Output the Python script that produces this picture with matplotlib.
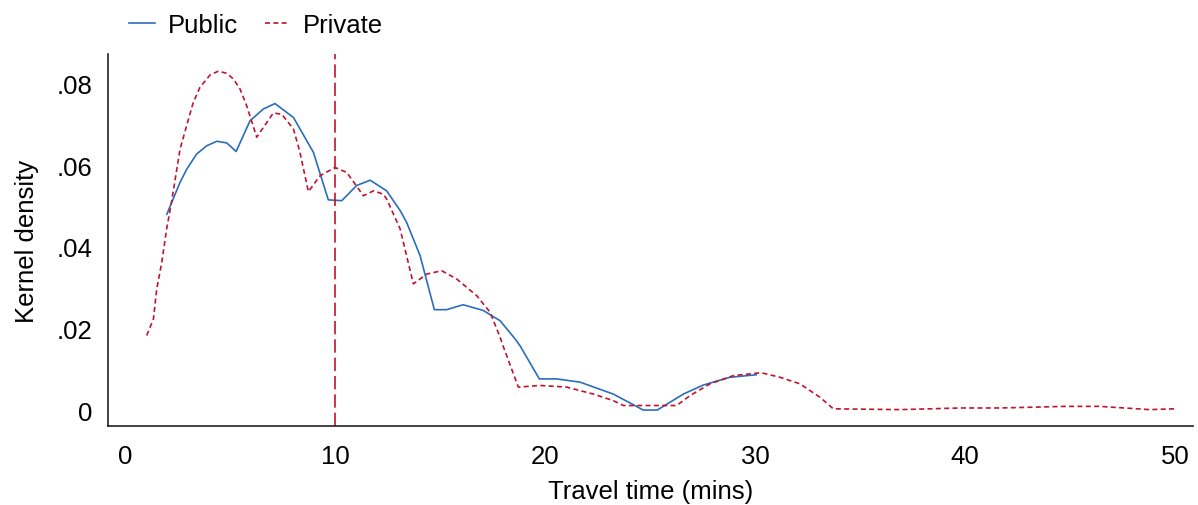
import matplotlib
matplotlib.use("Agg")
import matplotlib.pyplot as plt

plt.rcParams['font.family'] = ['Liberation Sans', 'DejaVu Sans']

# Public schools: travel time (mins) vs kernel density
public_x = [1.99, 2.62, 2.94, 3.41, 3.89, 4.37, 4.84, 5.29, 5.95, 6.59, 7.14, 8.02,
            8.97, 9.68, 10.32, 11.03, 11.67, 12.46, 13.1, 13.41, 14.05, 14.73, 15.32,
            16.1, 17.06, 17.86, 18.57, 18.81, 19.73, 20.56, 21.67, 23.25, 24.68, 25.35,
            26.59, 27.54, 28.81, 30.05]
public_y = [0.048, 0.0558, 0.059, 0.0627, 0.0647, 0.0658, 0.0654, 0.0633, 0.0708,
            0.0737, 0.0750, 0.0716, 0.0631, 0.0515, 0.0513, 0.0550, 0.0563, 0.0537,
            0.0489, 0.0460, 0.0379, 0.0247, 0.0247, 0.0259, 0.0245, 0.0220, 0.0176,
            0.0159, 0.0078, 0.0078, 0.0070, 0.0041, 0.0002, 0.0002, 0.0041, 0.0063,
            0.0082, 0.0088]

# Private schools
private_x = [1.03, 1.35, 1.51, 1.75, 1.98, 2.22, 2.62, 3.02, 3.25, 3.57, 4.05, 4.44,
             4.84, 5.16, 5.48, 5.79, 6.27, 7.06, 7.46, 8.02, 8.33, 8.73, 9.29, 10.0,
             10.56, 11.35, 11.83, 12.3, 12.46, 13.1, 13.73, 14.37, 15.08, 15.79, 16.75,
             17.38, 17.86, 18.0, 18.73, 19.76, 21.03, 22.3, 23.25, 23.73, 26.27, 26.9,
             27.86, 28.97, 30.3, 31.19, 32.14, 33.1, 33.73, 36.9, 39.76, 41.67, 44.84,
             46.4, 48.8, 50.0]
private_y = [0.0184, 0.0224, 0.0298, 0.0363, 0.0444, 0.0512, 0.0639, 0.0712, 0.0753,
             0.079, 0.082, 0.0829, 0.0824, 0.081, 0.0785, 0.0745, 0.0668, 0.0727,
             0.0724, 0.0688, 0.0631, 0.0535, 0.0574, 0.0594, 0.0582, 0.0525, 0.0537,
             0.0529, 0.0517, 0.0444, 0.031, 0.0334, 0.0342, 0.0322, 0.0281, 0.0241,
             0.018, 0.0159, 0.0058, 0.0062, 0.0058, 0.0041, 0.0025, 0.0013, 0.0013,
             0.0037, 0.0066, 0.0086, 0.0093, 0.0082, 0.0066, 0.0033, 0.0005, 0.0003,
             0.0007, 0.0007, 0.0011, 0.0011, 0.0003, 0.0005]

median_line = 10
xticks = [0, 10, 20, 30, 40, 50]
yticks = [0, 0.02, 0.04, 0.06, 0.08]
ytick_labels = ['0', '.02', '.04', '.06', '.08']

blue = '#2a6ebb'
red = '#c0142e'
fs = 18.5

fig = plt.figure(figsize=(11.98, 5.06), dpi=100)
ax = fig.add_axes([0.0902, 0.1561, 0.9056, 0.7352])

ax.plot(public_x, public_y, color=blue, lw=1.2, label='Public')
ax.plot(private_x, private_y, color=red, lw=1.2, ls=(0, (3, 2)), label='Private')
ax.axvline(median_line, color=red, lw=1.2, ls=(0, (8, 3)))

ax.set_xlim(-0.81, 50.86)
ax.set_ylim(-0.0037, 0.0871)
ax.set_xticks(xticks)
ax.set_xticklabels([str(t) for t in xticks])
ax.set_yticks(yticks)
ax.set_yticklabels(ytick_labels)
ax.tick_params(axis='y', length=0, labelsize=fs, pad=11)
ax.tick_params(axis='x', length=0, labelsize=fs, pad=13)

for s in ['top', 'right']:
    ax.spines[s].set_visible(False)
ax.spines['left'].set_color('#222222')
ax.spines['bottom'].set_color('#222222')
ax.spines['left'].set_linewidth(1.2)
ax.spines['bottom'].set_linewidth(1.2)

ax.set_xlabel('Travel time (mins)', fontsize=fs, labelpad=8)
ax.set_ylabel('Kernel density', fontsize=fs, labelpad=13)

fig.legend(loc='center left', bbox_to_anchor=(0.1077, 0.949), ncol=2, frameon=False,
           fontsize=fs, handlelength=1.0, columnspacing=1.05, borderpad=0,
           borderaxespad=0, handletextpad=0.5)

fig.savefig('out.png', dpi=100)
